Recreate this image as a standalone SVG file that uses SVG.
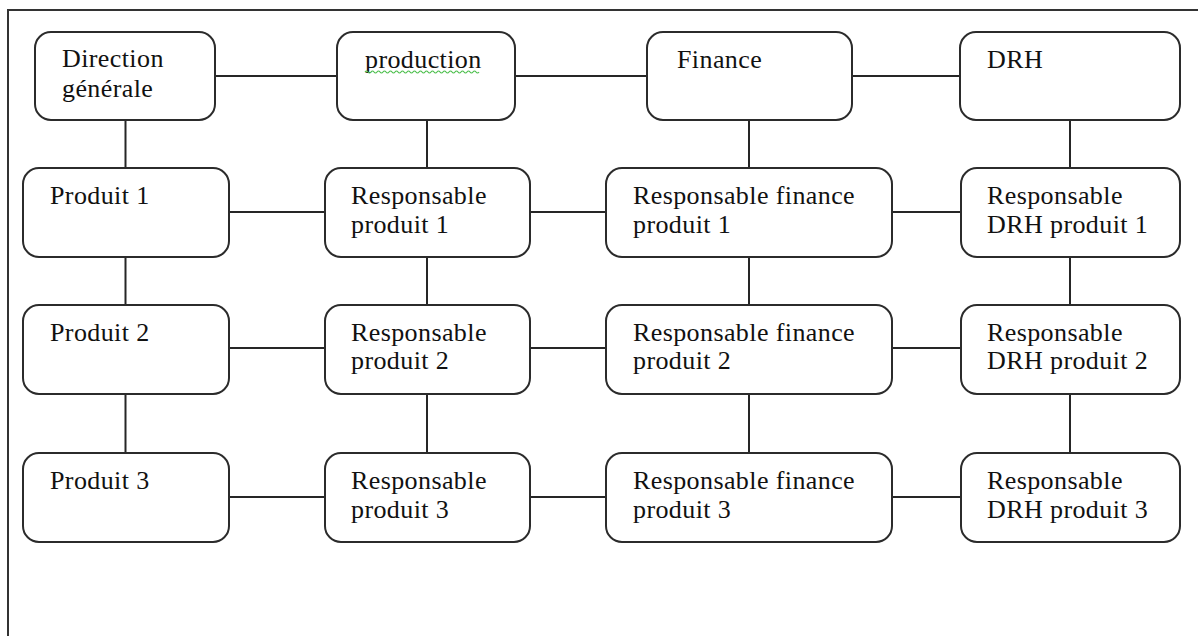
<svg xmlns="http://www.w3.org/2000/svg" width="1198" height="636" viewBox="0 0 1198 636">
  <style>
    .box { fill: #ffffff; stroke: #2b2b2b; stroke-width: 2; }
    .link { stroke: #262626; stroke-width: 2; fill: none; }
    .frame { stroke: #333333; stroke-width: 2; fill: none; }
    .lbl { font-family: "Liberation Serif", "Times New Roman", serif; font-size: 26px; letter-spacing: 0.4px; fill: #111111; }
    .squiggle { stroke: #4cbf4c; stroke-width: 1.2; fill: none; }
  </style>
  <defs>
    <!-- reusable box shapes for each column width -->
    <rect id="boxDG" class="box" x="0" y="0" width="180" height="88" rx="16" ry="16"/>
    <rect id="boxProd" class="box" x="0" y="0" width="178" height="88" rx="16" ry="16"/>
    <rect id="boxFin" class="box" x="0" y="0" width="205" height="88" rx="16" ry="16"/>
    <rect id="boxDRH" class="box" x="0" y="0" width="220" height="88" rx="16" ry="16"/>
    <rect id="boxC1" class="box" x="0" y="0" width="206" height="89" rx="16" ry="16"/>
    <rect id="boxC2" class="box" x="0" y="0" width="205" height="89" rx="16" ry="16"/>
    <rect id="boxC3" class="box" x="0" y="0" width="286" height="89" rx="16" ry="16"/>
    <rect id="boxC4" class="box" x="0" y="0" width="219" height="89" rx="16" ry="16"/>
  </defs>

  <rect x="0" y="0" width="1198" height="636" fill="#ffffff"/>

  <!-- outer page frame -->
  <path class="frame" d="M8,640 V10 H1200"/>

  <!-- connectors -->
  <g id="connectors">
    <!-- horizontal links -->
    <path class="link" d="M215,76 H337 M515,76 H647 M852,76 H960"/>
    <path class="link" d="M229,212 H325 M530,212 H606 M892,212 H961"/>
    <path class="link" d="M229,348 H325 M530,348 H606 M892,348 H961"/>
    <path class="link" d="M229,497 H325 M530,497 H606 M892,497 H961"/>
    <!-- vertical links -->
    <path class="link" d="M125.5,120 V168 M125.5,257 V305 M125.5,394 V453"/>
    <path class="link" d="M427,120 V168 M427,257 V305 M427,394 V453"/>
    <path class="link" d="M749,120 V168 M749,257 V305 M749,394 V453"/>
    <path class="link" d="M1070,120 V168 M1070,257 V305 M1070,394 V453"/>
  </g>

  <!-- row 1 -->
  <g id="direction-generale">
    <use href="#boxDG" x="35" y="32"/>
    <text class="lbl" x="62" y="67">Direction</text>
    <text class="lbl" x="62" y="97">générale</text>
  </g>
  <g id="production">
    <use href="#boxProd" x="337" y="32"/>
    <text class="lbl" x="365" y="68">production</text>
    <path class="squiggle" d="M365,72 q1.5,-2 3,0 t3,0 t3,0 t3,0 t3,0 t3,0 t3,0 t3,0 t3,0 t3,0 t3,0 t3,0 t3,0 t3,0 t3,0 t3,0 t3,0 t3,0 t3,0 t3,0 t3,0 t3,0 t3,0 t3,0 t3,0 t3,0 t3,0 t3,0 t3,0 t3,0 t3,0 t3,0 t3,0 t3,0 t3,0 t3,0 t3,0 t3,0"/>
  </g>
  <g id="finance">
    <use href="#boxFin" x="647" y="32"/>
    <text class="lbl" x="677" y="68">Finance</text>
  </g>
  <g id="drh">
    <use href="#boxDRH" x="960" y="32"/>
    <text class="lbl" x="987" y="68">DRH</text>
  </g>

  <!-- row 2 -->
  <g id="produit-1">
    <use href="#boxC1" x="23" y="168"/>
    <text class="lbl" x="50" y="204">Produit 1</text>
  </g>
  <g id="resp-produit-1">
    <use href="#boxC2" x="325" y="168"/>
    <text class="lbl" x="351" y="204">Responsable</text>
    <text class="lbl" x="351" y="233">produit 1</text>
  </g>
  <g id="resp-finance-1">
    <use href="#boxC3" x="606" y="168"/>
    <text class="lbl" x="633" y="204">Responsable finance</text>
    <text class="lbl" x="633" y="233">produit 1</text>
  </g>
  <g id="resp-drh-1">
    <use href="#boxC4" x="961" y="168"/>
    <text class="lbl" x="987" y="204">Responsable</text>
    <text class="lbl" x="987" y="233">DRH produit 1</text>
  </g>

  <!-- row 3 -->
  <g id="produit-2">
    <use href="#boxC1" x="23" y="305"/>
    <text class="lbl" x="50" y="341">Produit 2</text>
  </g>
  <g id="resp-produit-2">
    <use href="#boxC2" x="325" y="305"/>
    <text class="lbl" x="351" y="341">Responsable</text>
    <text class="lbl" x="351" y="369">produit 2</text>
  </g>
  <g id="resp-finance-2">
    <use href="#boxC3" x="606" y="305"/>
    <text class="lbl" x="633" y="341">Responsable finance</text>
    <text class="lbl" x="633" y="369">produit 2</text>
  </g>
  <g id="resp-drh-2">
    <use href="#boxC4" x="961" y="305"/>
    <text class="lbl" x="987" y="341">Responsable</text>
    <text class="lbl" x="987" y="369">DRH produit 2</text>
  </g>

  <!-- row 4 -->
  <g id="produit-3">
    <use href="#boxC1" x="23" y="453"/>
    <text class="lbl" x="50" y="489">Produit 3</text>
  </g>
  <g id="resp-produit-3">
    <use href="#boxC2" x="325" y="453"/>
    <text class="lbl" x="351" y="489">Responsable</text>
    <text class="lbl" x="351" y="518">produit 3</text>
  </g>
  <g id="resp-finance-3">
    <use href="#boxC3" x="606" y="453"/>
    <text class="lbl" x="633" y="489">Responsable finance</text>
    <text class="lbl" x="633" y="518">produit 3</text>
  </g>
  <g id="resp-drh-3">
    <use href="#boxC4" x="961" y="453"/>
    <text class="lbl" x="987" y="489">Responsable</text>
    <text class="lbl" x="987" y="518">DRH produit 3</text>
  </g>
</svg>
